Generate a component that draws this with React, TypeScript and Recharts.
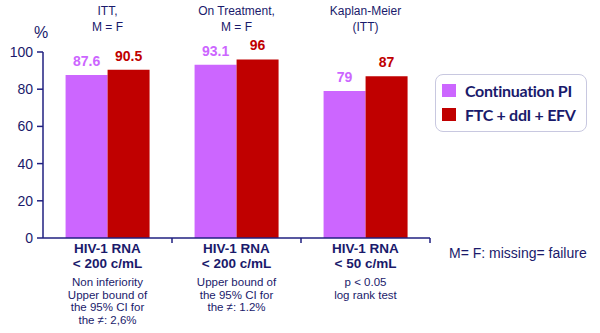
import { Bar, BarChart, LabelList, Legend, XAxis, YAxis } from "recharts";

const categories = ["ITT", "OnTreatment", "KaplanMeier"];
const groupTitles = [
  ["ITT,", "M = F"],
  ["On Treatment,", "M = F"],
  ["Kaplan-Meier", "(ITT)"],
];
const endpointLines = [
  ["HIV-1 RNA", "< 200 c/mL"],
  ["HIV-1 RNA", "< 200 c/mL"],
  ["HIV-1 RNA", "< 50 c/mL"],
];
const noteLines = [
  ["Non inferiority", "Upper bound of", "the 95% CI for", "the \u2260: 2,6%"],
  ["Upper bound of", "the 95% CI for", "the \u2260: 1.2%"],
  ["p < 0.05", "log rank test"],
];
const continuationPI = [87.6, 93.1, 79];
const ftcDdiEfv = [90.5, 96, 87];
const yTicks = [0, 20, 40, 60, 80, 100];

const PURPLE = "#cc66ff";
const RED = "#c00000";
const NAVY = "#1a1a6b";
const AXIS = "#202080";
const FONT = "'Liberation Sans', Arial, sans-serif";

const data = categories.map((c, i) => ({
  category: c,
  continuation: continuationPI[i],
  ftc: ftcDdiEfv[i],
}));

const indexOf = (value: string) => categories.indexOf(value);

function BottomTick(props: any) {
  const { x, y, payload } = props;
  const i = indexOf(payload.value);
  const half = payload.offset || 64.5;
  return (
    <g fontFamily={FONT}>
      <line x1={x + half} y1={y} x2={x + half} y2={y + 5} stroke={AXIS} strokeWidth={1.5} />
      {endpointLines[i].map((t, k) => (
        <text key={k} x={x} y={y + 14.5 + k * 15} textAnchor="middle" fontSize={13.5} fontWeight="bold" fill={NAVY}>
          {t}
        </text>
      ))}
      {noteLines[i].map((t, k) => (
        <text key={k} x={x} y={y + 48 + k * 12.5} textAnchor="middle" fontSize={11.5} fill={NAVY}>
          {t}
        </text>
      ))}
    </g>
  );
}

function TopTick(props: any) {
  const { x, y, payload } = props;
  const i = indexOf(payload.value);
  return (
    <g fontFamily={FONT}>
      {groupTitles[i].map((t, k) => (
        <text key={k} x={x} y={y - 37 + k * 16} textAnchor="middle" fontSize={12} fill={NAVY}>
          {t}
        </text>
      ))}
    </g>
  );
}

function LegendBox() {
  const items = [
    { name: "Continuation PI", color: PURPLE },
    { name: "FTC + ddI + EFV", color: RED },
  ];
  return (
    <div
      style={{
        width: 152,
        height: 58,
        border: "1.5px solid #c8c8e0",
        borderRadius: 8,
        background: "#fff",
        boxSizing: "border-box",
        padding: "3px 0 0 6px",
        fontFamily: "Lato, 'Open Sans', sans-serif",
        fontWeight: "bold",
        fontSize: 16,
        letterSpacing: -0.3,
        color: NAVY,
      }}
    >
      {items.map((it) => (
        <div key={it.name} style={{ display: "flex", alignItems: "center", height: 24 }}>
          <span
            style={{ width: 14, height: 13, flexShrink: 0, background: it.color, display: "inline-block" }}
          />
          <span style={{ marginLeft: 9, whiteSpace: "nowrap" }}>{it.name}</span>
        </div>
      ))}
    </div>
  );
}

export default function App() {
  return (
    <div style={{ position: "absolute", left: 0, top: 0, width: 600, height: 333, background: "#fff" }}>
      <BarChart
        width={600}
        height={333}
        data={data}
        margin={{ top: 0, right: 170, bottom: 0, left: 0 }}
        barCategoryGap="17.5%"
        barGap={0}
      >
        <XAxis
          dataKey="category"
          axisLine={{ stroke: AXIS, strokeWidth: 1.5 }}
          tickLine={false}
          tickSize={0}
          tickMargin={0}
          height={95}
          interval={0}
          tick={<BottomTick />}
        />
        <XAxis
          xAxisId="top"
          dataKey="category"
          orientation="top"
          axisLine={false}
          tickLine={false}
          tickSize={0}
          tickMargin={0}
          height={52}
          interval={0}
          tick={<TopTick />}
        />
        <YAxis
          domain={[0, 100]}
          ticks={yTicks}
          width={43}
          axisLine={{ stroke: AXIS, strokeWidth: 1.5 }}
          tickLine={{ stroke: AXIS, strokeWidth: 1.5 }}
          tickSize={6}
          tickMargin={4}
          tick={{ fill: NAVY, fontSize: 14, fontFamily: FONT }}
          label={{
            content: (p: any) => (
              <text
                x={p.viewBox.x + p.viewBox.width - 2}
                y={p.viewBox.y - 14}
                textAnchor="middle"
                fontSize={16}
                fontFamily={FONT}
                fill={NAVY}
              >
                %
              </text>
            ),
          }}
        />
        <Legend
          layout="horizontal"
          verticalAlign="middle"
          align="center"
          content={() => <LegendBox />}
          wrapperStyle={{ position: "absolute", left: 435, top: 74, width: 152, height: 58 }}
        />
        <Bar dataKey="continuation" name="Continuation PI" fill={PURPLE} isAnimationActive={false}>
          <LabelList
            dataKey="continuation"
            position="top"
            offset={9}
            fill={PURPLE}
            fontSize={14}
            fontWeight="bold"
            fontFamily={FONT}
          />
        </Bar>
        <Bar dataKey="ftc" name="FTC + ddI + EFV" fill={RED} isAnimationActive={false}>
          <LabelList
            dataKey="ftc"
            position="top"
            offset={9}
            fill={RED}
            fontSize={14}
            fontWeight="bold"
            fontFamily={FONT}
          />
        </Bar>
      </BarChart>
      <div
        style={{
          position: "absolute",
          left: 449,
          top: 245,
          fontFamily: FONT,
          fontSize: 14,
          color: NAVY,
          whiteSpace: "nowrap",
        }}
      >
        M= F: missing= failure
      </div>
    </div>
  );
}
